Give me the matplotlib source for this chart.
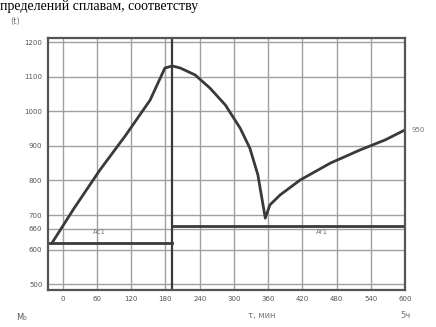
import numpy as np
import matplotlib
matplotlib.use("Agg")
import matplotlib.pyplot as plt

# temperature curve (time in min, temperature in deg C)
t_curve = [-19, 20, 65, 110, 153, 179, 192, 206, 232, 258, 285, 311, 328, 342, 355,
           363, 381, 416, 469, 521, 565, 600]
T_curve = [619, 720, 830, 930, 1032, 1125, 1131, 1125, 1105, 1067, 1018, 951, 893, 816, 691,
           729, 758, 801, 850, 888, 917, 946]

# horizontal levels and split time
t_split = 192
T_left = 619
T_right = 668

x_ticks = [0, 60, 120, 180, 240, 300, 360, 420, 480, 540, 600]
y_ticks = [500, 600, 660, 700, 800, 900, 1000, 1100, 1200]
y_labels = ["500", "600", "660", "700", "800", "900", "1000", "1100", "1200"]

ink = "#3a3a3a"

fig = plt.figure(figsize=(4.36, 3.27), dpi=100)
ax = fig.add_axes([0.110, 0.113, 0.819, 0.771])

ax.plot(t_curve, T_curve, color=ink, lw=2.0, solid_capstyle="round",
        solid_joinstyle="round")
ax.axvline(t_split, color=ink, lw=1.6)
ax.plot([-26, t_split], [T_left, T_left], color=ink, lw=2.0)
ax.plot([t_split, 600], [T_right, T_right], color=ink, lw=2.0)

ax.text(65, 650, "Ac1", fontsize=5, color="#777777", ha="center", va="center")
ax.text(455, 650, "Ar1", fontsize=5, color="#777777", ha="center", va="center")
ax.text(612, 946, "950", fontsize=5, color="#777777", ha="left", va="center")

ax.set_xlim(-26, 600)
ax.set_ylim(483, 1212)
ax.set_xticks(x_ticks)
ax.set_xticklabels([str(v) for v in x_ticks], fontsize=5, color="#555555")
ax.set_yticks(y_ticks)
ax.set_yticklabels(y_labels, fontsize=5, color="#555555")
ax.tick_params(length=0, pad=4)
ax.grid(True, color="#a0a0a0", lw=1.0)
for s in ax.spines.values():
    s.set_color("#555555")
    s.set_linewidth(1.6)

fig.text(0.035, 0.935, "(t)", fontsize=6, color="#777777", ha="center", va="center")
fig.text(0.05, 0.03, "M₀", fontsize=6, color="#555555", ha="center", va="center")
fig.text(0.60, 0.035, "τ, мин", fontsize=6, color="#777777", ha="center", va="center")
fig.text(0.93, 0.035, "5ч", fontsize=6, color="#777777", ha="center", va="center")
fig.text(0.0, 1.0, "пределений сплавам, соответству", fontsize=10,
         family="Liberation Serif", ha="left", va="top")

plt.savefig("out.png", dpi=100)
